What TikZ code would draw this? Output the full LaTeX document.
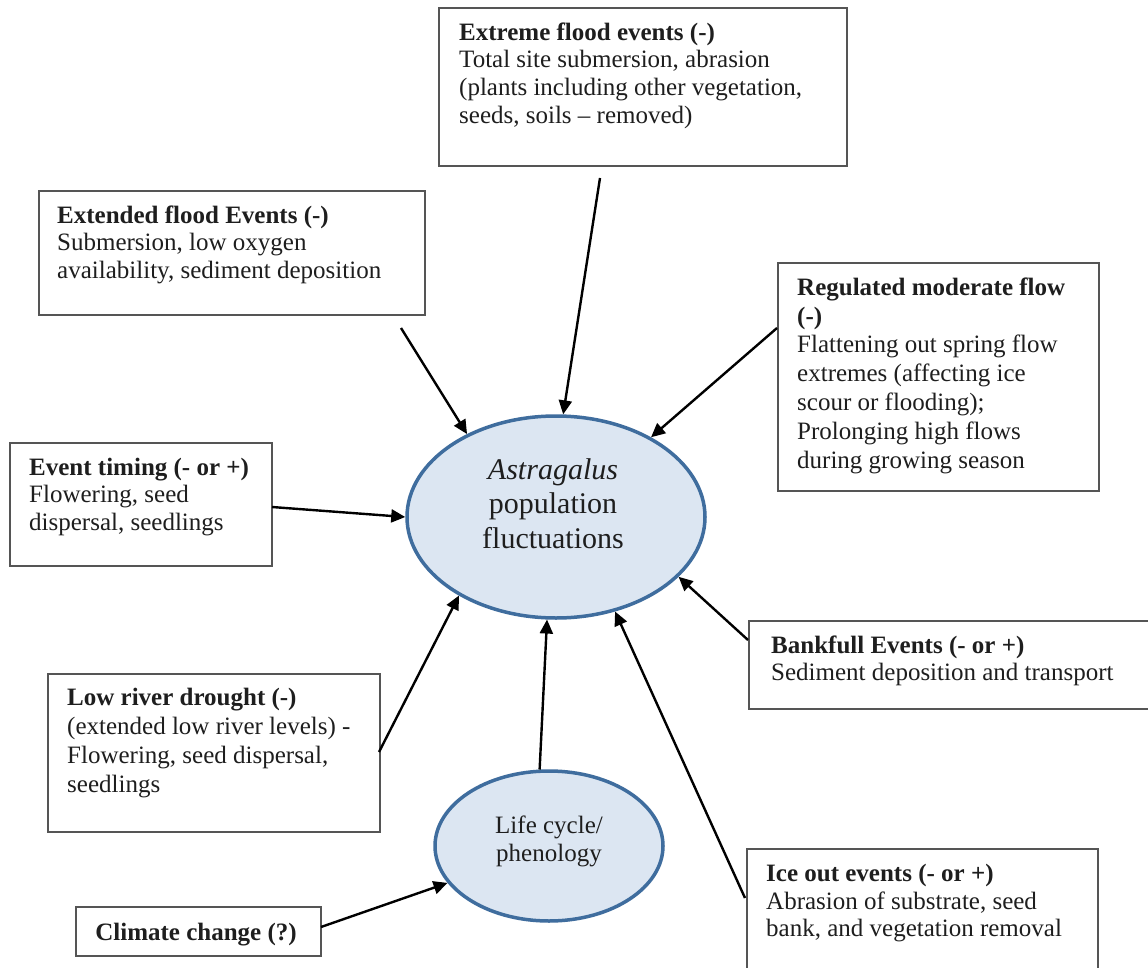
\documentclass[tikz,border=0pt]{standalone}
\usepackage{fontspec}
\setmainfont{Liberation Serif}
\usetikzlibrary{arrows.meta,shapes.geometric}
\definecolor{ellfill}{HTML}{DCE6F2}
\definecolor{elldraw}{HTML}{3F6D9E}
\definecolor{boxline}{HTML}{555555}
\definecolor{txtcol}{HTML}{1E1E1E}
\newcommand{\fstrut}{\rule{0pt}{20pt}}
\newcommand{\bstrut}{\rule{0pt}{24pt}}
\begin{document}
\begin{tikzpicture}[x=1pt,y=-1pt,
  boxshape/.style={draw=boxline, line width=2pt, rectangle, inner sep=0pt, anchor=north west},
  boxtext/.style={anchor=north west, inner sep=0pt, align=left, text=txtcol, font={\fontsize{25}{#1}\selectfont}},
  ellshape/.style={ellipse, draw=elldraw, fill=ellfill, line width=3.5pt, inner sep=0pt},
  arr/.style={draw=black, line width=2.4pt, -{Triangle[length=14pt,width=13pt]}},
]
\fill[white] (0,0) rectangle (1148,968);
\useasboundingbox (0,0) rectangle (1148,968);

% boxes
\node[boxshape, minimum width=408pt, minimum height=158pt] (ext) at (438,7) {};
\node[boxtext=27.8] (extT) at (459,20) {\fstrut\textbf{Extreme flood events (-)}\\Total site submersion, abrasion\\(plants including other vegetation,\\seeds, soils \textendash{} removed)};

\node[boxshape, minimum width=386pt, minimum height=124pt] (extd) at (38,190) {};
\node[boxtext=27.5] (extdT) at (57,203) {\fstrut\textbf{Extended flood Events (-)}\\Submersion, low oxygen\\availability, sediment deposition};

\node[boxshape, minimum width=321pt, minimum height=228pt] (reg) at (777,262) {};
\node[boxtext=28.8] (regT) at (797,275) {\fstrut\textbf{Regulated moderate flow}\\\textbf{(-)}\\Flattening out spring flow\\extremes (affecting ice\\scour or flooding);\\Prolonging high flows\\during growing season};

\node[boxshape, minimum width=262pt, minimum height=123pt] (evt) at (9,442) {};
\node[boxtext=27.5] (evtT) at (29,455) {\fstrut\textbf{Event timing (- or +)}\\Flowering, seed\\dispersal, seedlings};

\node[boxshape, minimum width=420pt, minimum height=88pt] (bank) at (748,620) {};
\node[boxtext=27.5] (bankT) at (771,633) {\fstrut\textbf{Bankfull Events (- or +)}\\Sediment deposition and transport};

\node[boxshape, minimum width=332pt, minimum height=158pt] (low) at (47,673) {};
\node[boxtext=29] (lowT) at (67,685) {\fstrut\textbf{Low river drought (-)}\\(extended low river levels) -\\Flowering, seed dispersal,\\seedlings};

\node[boxshape, minimum width=351pt, minimum height=140pt] (ice) at (746,848) {};
\node[boxtext=27.8] (iceT) at (766,861) {\fstrut\textbf{Ice out events (- or +)}\\Abrasion of substrate, seed\\bank, and vegetation removal};

\node[boxshape, minimum width=245pt, minimum height=49pt] (clim) at (75,906) {};
\node[anchor=base, inner sep=0pt, text=txtcol, font={\fontsize{25}{27.5}\selectfont}] (climT) at (196,940) {\textbf{Climate change (?)}};

% ellipses
\node[ellshape, minimum width=298pt, minimum height=202pt] (big) at (556,517) {};
\node[anchor=north, inner sep=0pt, align=center, text=txtcol, font={\fontsize{30}{34.5}\selectfont}] (bigT) at (553,455) {\bstrut\textit{Astragalus}\\population\\fluctuations};

\node[ellshape, minimum width=228pt, minimum height=150pt] (small) at (549,846) {};
\node[anchor=north, inner sep=0pt, align=center, text=txtcol, font={\fontsize{25}{28.5}\selectfont}] (smallT) at (549,813) {\fstrut Life cycle/\\phenology};

% connector start points
\coordinate (sA) at (401,328);
\coordinate (sB) at (600,178);
\coordinate (sC) at (777,328);
\coordinate (sI) at (272,507);
\coordinate (sG) at (748,640);
\coordinate (sD) at (379,752);
\coordinate (sF) at (745,898);
\coordinate (sH) at (321,927);

% connectors
\draw[arr] (sA) -- (big.137.3);
\draw[arr] (sB) -- (big.86);
\draw[arr] (sC) -- (big.40.1);
\draw[arr] (sI) -- (big.180);
\draw[arr] (sG) -- (big.-26.8);
\draw[arr] (sD) -- (big.-141.3);
\draw[arr] (small.97) -- (big.-95.5);
\draw[arr] (sF) -- (big.-58.5);
\draw[arr] (sH) -- (small.-160.4);
\end{tikzpicture}
\end{document}
